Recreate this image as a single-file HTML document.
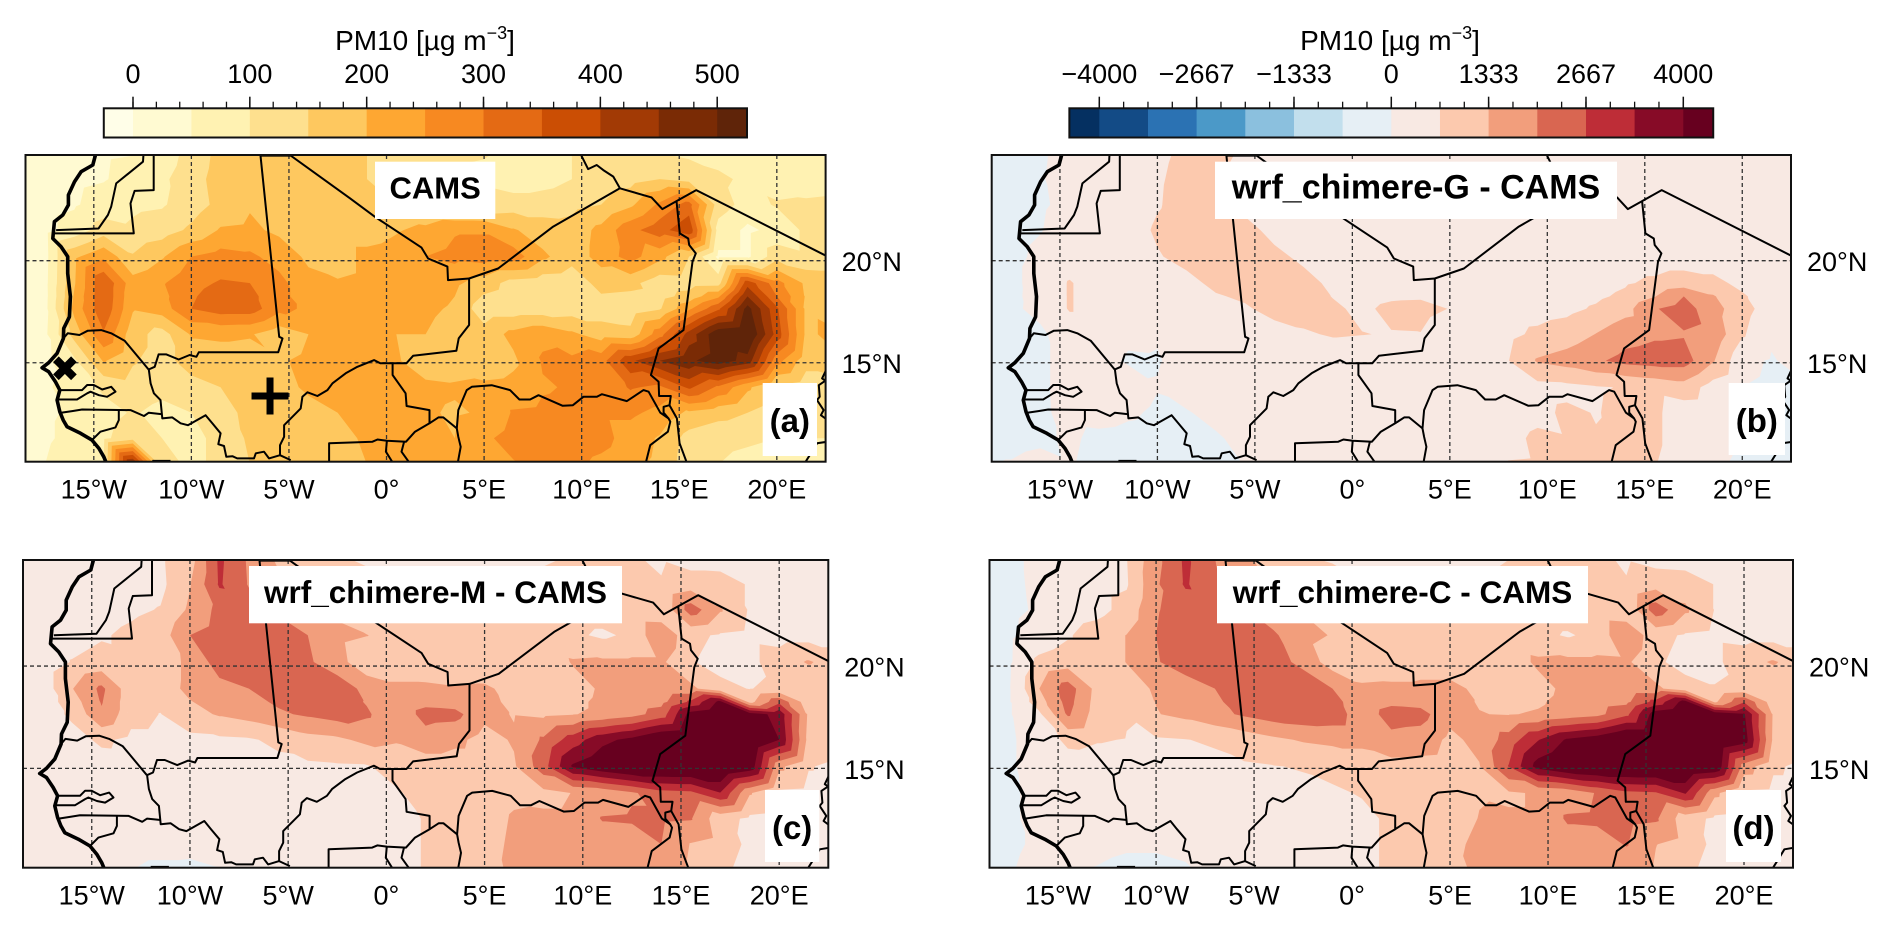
<!DOCTYPE html>
<html lang="en">
<head>
<meta charset="utf-8">
<title>PM10 maps</title>
<style>
html,body{margin:0;padding:0;background:#fff;}
svg{display:block;font-family:"Liberation Sans",Arial,sans-serif;}
</style>
</head>
<body>
<svg id="figure" xmlns="http://www.w3.org/2000/svg" width="1892" height="926" viewBox="0 0 1892 926"></svg>
<script>
const lons = [-19,-17.5,-16,-14.5,-13,-11.5,-10,-8.5,-7,-5.5,-4,-2.5,-1,0.5,2,3.5,5,6.5,8,9.5,11,12.5,14,15.5,17,18.5,20,21.5,23];
const lats = [25.3,24,22.75,21.5,20.2,18.9,18.25,17.65,16.4,15.1,13.8,12.55,11.3,10];

const camsField = [
[30,35,40,45,48,70,120,165,175,175,170,160,150,130,120,110,105,90,90,100,105,110,100,90,80,75,75,70,70],
[30,35,40,47,65,90,130,170,185,190,180,165,150,140,130,115,85,70,80,100,115,130,150,130,110,90,75,70,70],
[30,35,45,70,90,95,125,165,195,190,185,175,165,150,135,125,120,125,125,135,150,190,260,320,125,80,105,110,115],
[30,35,70,125,110,125,160,205,210,190,180,175,175,195,215,245,245,205,175,170,215,285,330,390,80,40,65,110,130],
[28,32,190,240,155,195,250,270,260,230,190,175,215,225,250,265,275,275,210,170,220,270,215,150,40,40,130,110,115],
[28,35,195,345,220,245,285,305,300,265,215,205,215,215,245,210,175,130,120,115,170,165,120,125,130,380,270,190,185],
[28,33,205,345,210,235,295,320,315,265,225,210,212,215,230,200,145,125,120,120,145,140,130,170,240,450,300,195,165],
[28,35,215,340,205,225,300,325,325,265,240,215,210,215,215,190,120,120,120,125,125,120,145,240,340,520,360,190,150],
[28,40,170,295,170,130,205,210,205,170,200,210,205,200,200,170,170,215,240,210,175,165,280,420,540,560,380,190,215],
[28,38,90,205,155,130,175,175,175,195,210,205,210,205,175,180,170,190,255,260,280,390,450,490,530,480,270,170,190],
[35,45,65,110,130,115,130,150,170,190,205,205,205,205,210,205,210,215,245,255,265,305,290,360,290,210,140,120,120],
[40,45,55,80,105,85,100,130,165,175,190,200,205,205,205,195,205,255,260,265,260,260,235,190,170,150,120,120,110],
[40,45,60,90,130,100,90,110,160,165,175,190,205,200,205,200,240,270,280,285,270,225,195,130,110,105,100,100,100],
[50,50,70,100,480,120,90,110,150,160,170,190,200,200,205,215,225,245,265,265,235,210,190,120,100,90,85,85,85]
];
const diffFieldG = [
[-200,-150,-50,150,250,350,550,780,800,600,450,350,300,300,300,300,300,300,300,300,300,300,300,300,300,300,300,300,300],
[-200,-150,-30,150,250,350,600,850,720,500,450,350,300,300,300,300,300,300,300,300,300,300,300,300,300,300,300,300,300],
[-200,-150,-50,100,200,300,620,900,750,500,450,400,350,300,300,300,300,300,300,300,300,300,300,300,300,300,300,300,300],
[-200,-150,-20,200,300,400,750,950,950,850,500,400,350,300,300,300,300,300,300,300,300,300,300,300,300,300,300,300,300],
[-200,-120,100,300,300,300,620,850,950,950,800,550,400,350,300,300,300,300,300,300,300,300,300,300,300,300,300,300,300],
[-200,-120,200,720,300,300,300,500,800,900,950,850,550,400,350,350,350,300,300,300,300,400,600,800,1000,850,500,300,250],
[-200,-110,180,720,300,290,280,400,620,750,900,880,650,450,580,600,450,320,320,350,400,550,800,1300,2000,1400,750,320,270],
[-200,-100,150,720,300,280,250,300,450,600,850,900,750,560,800,850,650,350,350,400,500,750,1100,1950,2300,1600,900,350,300],
[-200,-150,-100,300,300,100,50,300,350,350,450,600,720,680,640,650,300,300,500,800,1000,1350,1750,1900,1950,1800,750,100,150],
[-200,-200,-100,200,200,-60,-40,200,300,300,300,300,300,300,300,350,350,350,650,1400,1600,1900,2200,2300,2300,1400,150,-50,200],
[-200,-200,-100,200,300,300,30,300,300,300,300,300,300,300,300,300,300,300,300,450,500,620,700,850,1050,380,0,-100,-100],
[-200,-200,-120,200,250,100,-100,-50,200,300,300,300,300,300,300,300,300,300,350,500,780,640,800,800,300,250,-60,-120,-120],
[-200,-200,-120,100,-150,-200,-250,-250,-80,200,300,300,300,300,300,300,300,300,500,780,700,700,780,800,300,200,-100,-120,-120],
[-50,50,200,50,-200,-250,-250,-250,-150,20,300,300,300,300,300,300,300,500,700,720,700,720,780,700,300,100,-100,-120,-120]
];
const diffFieldM = [
[200,250,300,400,450,550,1050,2800,1900,1200,800,700,600,500,450,450,450,500,600,700,800,700,600,350,300,300,300,300,300],
[300,300,300,350,400,500,1300,2750,1950,1500,1100,1000,800,600,600,600,600,700,800,900,1000,900,700,1000,1000,600,300,300,300],
[300,300,300,400,550,700,1450,2200,2300,1900,1500,1200,900,800,800,800,800,800,900,1000,1000,800,750,2350,1400,600,400,400,400],
[300,300,400,600,800,1000,2000,2300,2300,2300,2000,1500,1350,1100,1000,1000,1000,1000,950,800,550,800,1950,800,600,500,400,400,400],
[300,300,700,900,800,950,1500,2300,2350,2300,2100,1600,850,850,800,850,800,800,800,1400,1450,1450,1450,700,500,500,1000,1400,1000],
[300,300,1300,2150,900,1000,1500,1800,2000,2300,2400,2400,1800,1500,1500,1400,1450,1100,800,1000,1450,1500,1500,1500,800,650,800,800,600],
[300,300,1000,2050,900,800,1300,1600,1800,2100,2250,2350,1950,1500,1800,1700,1500,1200,1000,1150,1500,1650,1800,2800,4200,1100,2500,900,600],
[300,300,800,1900,900,650,1100,1400,1600,1900,2100,2300,2100,1500,2250,2200,1500,1300,1200,1300,1500,1750,2300,4300,4700,4300,3800,1200,600],
[300,300,400,800,500,500,500,550,600,800,1100,1200,1500,1400,1700,1500,1100,1400,2100,3000,3800,4200,4800,5000,5000,5000,4000,1100,700],
[300,300,300,350,400,400,400,450,450,500,550,600,620,900,1000,1000,1000,1250,2400,4100,4600,5000,5000,5000,5000,4500,1500,700,550],
[300,300,300,350,400,400,400,400,400,400,450,450,500,600,900,900,1000,1200,1150,1350,1500,1900,2400,2500,3300,1400,550,500,500],
[300,300,300,350,400,400,350,350,400,400,400,400,400,500,700,900,1050,1400,1450,1450,2050,2100,2100,2050,900,550,450,400,400],
[300,300,300,300,300,300,250,300,350,400,400,400,450,500,700,800,1100,1450,1500,1500,1600,1600,2000,1300,1100,500,350,300,300],
[300,300,300,200,0,-200,-200,-50,300,350,400,400,450,500,700,800,1000,1500,1500,1500,1700,1500,1500,1200,900,300,250,250,250]
];
const diffFieldC = [
[-200,-100,100,300,500,650,1800,2800,2000,1500,900,700,600,550,500,500,500,500,650,800,850,750,600,400,350,300,300,300,300],
[-200,-120,100,350,450,600,1900,2750,2100,1500,1200,1100,900,700,700,700,700,800,850,950,1050,900,700,1050,1000,650,350,300,300],
[-200,-150,80,300,450,900,1950,2300,2350,2050,1600,1300,1000,850,850,850,850,850,950,1000,1000,850,750,2400,1450,650,450,400,400],
[-200,-120,300,600,1000,1350,2000,2400,2400,2350,2100,1500,1300,1000,1000,1050,1050,1050,1000,850,600,850,2000,850,600,500,400,400,400],
[-200,-100,800,1000,1000,1350,1950,2300,2400,2350,2300,1800,1000,900,850,1000,1000,1000,1000,1450,1500,1500,1450,750,500,500,1100,1400,1000],
[-200,-50,1300,2350,1100,1100,1400,1700,2000,2400,2400,2500,2000,1450,1500,1500,1500,1200,1000,1100,1500,1550,1550,1500,850,700,850,850,650],
[-200,-50,1000,2250,1050,900,1350,1600,1900,2250,2400,2500,2250,1550,1850,1750,1500,1300,1150,1250,1550,1700,1850,2900,4300,1200,2600,950,650],
[-200,-50,500,2100,1000,700,1300,1500,1800,2100,2350,2450,2400,1600,2300,2250,1500,1350,1300,1400,1600,1800,2500,4400,4800,4500,4100,1250,650],
[-200,-100,300,800,700,650,600,650,750,950,1200,1400,1500,1500,1800,1700,1200,1500,2300,3300,4100,4400,5000,5000,5000,5000,4400,1200,700],
[-200,-100,300,400,450,450,450,500,500,600,650,700,800,1000,1100,1100,1050,1300,2700,4300,4800,5000,5000,5000,5000,4700,1700,750,550],
[-200,-120,200,350,400,400,400,400,400,450,500,550,600,700,1000,1000,1050,1300,1250,1400,1550,2050,2500,2600,3400,1500,550,500,500],
[-200,-120,200,350,400,300,250,300,400,400,400,450,450,550,750,950,1100,1350,1400,1400,2100,2150,2200,2100,950,550,450,400,400],
[-200,-120,100,300,200,100,100,200,350,400,400,450,500,550,750,850,1200,1450,1550,1550,1650,1650,2050,1350,1100,500,350,300,300],
[-150,-50,200,150,-50,-200,-200,-100,200,350,400,450,500,550,750,850,1050,1500,1500,1550,1750,1550,1500,1250,900,300,250,250,250]
];

const absLevels = [0,50,100,150,200,250,300,350,400,450,500];
const absColors = ['#fffee8','#fffad2','#fff2b2','#fee08e','#fec85f','#fea732','#f78921','#e46a14','#cb4e04','#a23a05','#7a2b05','#5f2409'];
const absTicks = [0,100,200,300,400,500];
const absTickLabels = ['0','100','200','300','400','500'];
const absMinorStep = 20;
const diffLevels = [-4000,-3333,-2667,-2000,-1333,-667,0,667,1333,2000,2667,3333,4000];
const diffColors = ['#053061','#134b86','#2b72b3','#4b99c8','#8bc0de','#c2dfed','#e6eff5','#f8e9e3','#fcc9ae','#f29e7c','#d96651','#be2d37','#870b27','#67001f'];
const diffTicks = [-4000,-2667,-1333,0,1333,2667,4000];
const diffTickLabels = ['\u22124000','\u22122667','\u22121333','0','1333','2667','4000'];
const diffMinorStep = 333.33;

const lonTicks = [-15,-10,-5,0,5,10,15,20];
const lonTickLabels = ['15°W','10°W','5°W','0°','5°E','10°E','15°E','20°E'];
const latTicks = [20,15];
const latTickLabels = ['20°N','15°N'];

const coastline = [[-14.88,25.3],[-15.05,24.69],[-15.65,24.36],[-15.99,23.87],[-16.3,23.22],[-16.3,22.73],[-16.59,22.24],[-17.02,21.91],[-17.1,21.09],[-16.68,20.69],[-16.34,20.2],[-16.34,19.38],[-16.2,18.24],[-16.25,17.25],[-16.54,16.68],[-16.56,16.19],[-16.88,15.46],[-17.31,15],[-17.65,14.75],[-17.31,14.56],[-16.97,14.07],[-16.74,13.66],[-16.88,13.17],[-16.74,12.6],[-16.57,12.19],[-16.37,11.86],[-15.68,11.54],[-15.09,11.21],[-14.74,10.8],[-14.49,10.39],[-14.32,10]];
const borders = [
[[-12.45,25.3],[-12.48,24.85],[-13.85,23.79],[-14.11,22.65],[-14.28,22.24],[-14.76,21.58],[-16.93,21.5]],
[[-17.02,21.34],[-12.95,21.34],[-13.12,22.81],[-12.91,23.42],[-11.93,23.46],[-11.93,25.3]],
[[-4.91,25.15],[-6.46,25.15],[-5.5,16.27],[-5.33,16.19],[-5.55,15.51],[-9.62,15.51],[-9.74,15.29],[-10.09,15.38],[-10.65,15.16],[-11.28,15.41],[-11.68,15.41],[-11.88,14.8],[-12.19,14.67]],
[[-12.19,14.67],[-13.42,16.08],[-14.11,16.44],[-14.62,16.6],[-15.31,16.57],[-15.74,16.36],[-16.34,16.44],[-16.56,16.19]],
[[-12.18,14.67],[-12.09,13.99],[-11.92,13.5],[-11.58,13.17],[-11.49,12.27],[-10.98,12.32],[-10.55,12.03],[-10.18,11.94],[-9.27,12.43],[-8.93,12.03],[-8.5,11.54],[-8.62,11.01],[-8.33,10.92],[-8.21,10.39],[-7.9,10.42],[-7.65,10.31],[-6.79,10.31],[-6.7,10.56],[-6.28,10.64],[-6.02,10.31],[-5.46,10.47],[-4.91,10.23]],
[[-5.46,10.47],[-5.46,10.96],[-5.25,11.37],[-5.25,11.94],[-4.4,12.76],[-4.31,13.33],[-4.05,13.55],[-3.54,13.37],[-3.03,13.66],[-2.77,13.99],[-2.09,14.48],[-1.49,14.8],[-0.63,15.13],[-0.32,14.97],[1.02,14.97],[1.36,15.34],[3.58,15.59],[3.7,16.19],[4.23,16.85],[4.23,19.13],[3.15,19.05],[3.12,19.71],[2.13,20.11],[1.79,20.64],[-0.61,22.16],[-1.87,23.06],[-4.91,25.15]],
[[4.23,19.13],[5.72,19.62],[8.54,21.67],[11.96,23.55],[11.62,24.12],[11.11,24.44],[10.77,24.69],[10.33,24.49],[9.91,25.3]],
[[11.96,23.55],[13.58,23.1],[14.13,22.53],[14.86,22.92],[15.87,23.46],[22.6,20.2]],
[[14.86,22.92],[15.03,21.34],[15.46,21.09],[15.51,20.77],[15.85,20.36],[15.68,19.95],[15.22,16.6],[13.94,15.7],[13.55,14.4],[13.94,14.07],[13.97,13.37],[14.57,13.37],[14.5,12.92],[14.2,12.84],[14.2,12.55],[14.45,12.27]],
[[3.63,10],[3.8,10.88],[3.68,11.37],[3.6,11.78],[3.68,12.68],[4.11,13.66],[4.37,13.82],[5.39,13.9],[6.33,13.66],[6.81,13.2],[7.36,13.2],[7.79,13.41],[9.03,12.89],[9.55,12.92],[10.09,13.33],[10.78,13.33],[11.03,13.46],[12.32,13.12],[13.17,13.66],[13.43,13.58],[14.03,12.55],[14.45,12.27],[14.54,12.11],[14.42,11.62],[13.51,10.96],[13.26,10]],
[[14.5,12.92],[14.88,12.27],[15.02,11.05],[15.43,10]],
[[0.31,14.97],[0.31,14.4],[0.98,13.5],[1.03,12.88],[2.2,12.68],[2.2,12.03],[1.46,11.62],[1.0,11.13],[0.02,11.18],[-0.46,11.24],[-0.72,11.13],[-2.94,11.05],[-2.94,10]],
[[2.2,12.03],[2.66,12.32],[2.91,12.32],[3.6,11.78]],
[[0.02,11.18],[-0.03,10.64],[0.39,10]],
[[0.9,11.13],[0.77,10.64],[1.25,10]],
[[-16.74,13.66],[-15.6,13.66],[-15.34,13.91],[-15,13.91],[-14.57,13.69],[-14.11,13.82],[-13.89,13.58],[-14.32,13.33],[-14.74,13.41],[-15.17,13.58],[-15.34,13.5],[-15.86,13.2],[-16.8,13.2]],
[[-16.68,12.55],[-16.11,12.63],[-15.6,12.71],[-13.12,12.68],[-12.43,12.39],[-12.18,12.55],[-11.49,12.48]],
[[-13.72,12.68],[-13.72,12.19],[-13.89,11.83],[-14.66,11.62],[-15.09,11.21]],
[[-12,10.19],[-11.07,10.19]],
[[22.6,14.8],[22.32,14.23],[22.49,14.12],[22.15,13.9],[22.2,13.33],[22.06,13.17],[22.4,12.68],[22.26,12.43],[22.6,12.19]],
[[21.38,10],[21.8,10.64],[22.06,11.05],[22.6,11.13]]
];

const panels = [
{key:'a',tag:'(a)',title:'CAMS',titleSize:31,field:camsField,levels:absLevels,colors:absColors,left:25.5,right:825.6,top:155,bottom:461.7,
 titleBox:[375,161.7,120.3,57.3],tagBox:[762.7,383,54.3,73],markers:true},
{key:'b',tag:'(b)',title:'wrf_chimere-G - CAMS',titleSize:34,field:diffFieldG,levels:diffLevels,colors:diffColors,left:991.7,right:1791,top:155,bottom:461.7,
 titleBox:[1215,161.7,402,57.3],tagBox:[1728.7,383,56.3,72]},
{key:'c',tag:'(c)',title:'wrf_chimere-M - CAMS',titleSize:31.5,field:diffFieldM,levels:diffLevels,colors:diffColors,left:23,right:828.3,top:560,bottom:867.7,
 titleBox:[249,566,373,57.3],tagBox:[765,790,54.3,72]},
{key:'d',tag:'(d)',title:'wrf_chimere-C - CAMS',titleSize:31.5,field:diffFieldC,levels:diffLevels,colors:diffColors,left:989.5,right:1793,top:560,bottom:867.7,
 titleBox:[1217,566,371,57.3],tagBox:[1726,790,55,72]}
];

const lonMin = -18.5, lonMax = 22.5, latMin = 10.15, latMax = 25.18;
const NS = 'http://www.w3.org/2000/svg';
const fig = document.getElementById('figure');

function make(tag, attrs, parent){
  const el = document.createElementNS(NS, tag);
  for(const k in attrs) el.setAttribute(k, attrs[k]);
  (parent || fig).appendChild(el);
  return el;
}
function xScale(p, lon){ return p.left + (lon - lonMin) / (lonMax - lonMin) * (p.right - p.left); }
function yScale(p, lat){ return p.top + (latMax - lat) / (latMax - latMin) * (p.bottom - p.top); }

function clipTriangle(tri, level){
  const out = [];
  for(let i = 0; i < 3; i++){
    const a = tri[i], b = tri[(i + 1) % 3];
    const ia = a[2] >= level, ib = b[2] >= level;
    if(ia) out.push(a);
    if(ia !== ib){
      const t = (level - a[2]) / (b[2] - a[2]);
      out.push([a[0] + t * (b[0] - a[0]), a[1] + t * (b[1] - a[1]), level]);
    }
  }
  return out;
}
function bandPath(p, level){
  let d = '';
  const f = p.field;
  const addTri = function(tri){
    const poly = clipTriangle(tri, level);
    if(poly.length < 3) return;
    d += 'M' + poly.map(function(q){ return q[0].toFixed(1) + ' ' + q[1].toFixed(1); }).join('L') + 'Z';
  };
  for(let r = 0; r < lats.length - 1; r++){
    for(let c = 0; c < lons.length - 1; c++){
      const n = function(rr, cc){ return [xScale(p, lons[cc]), yScale(p, lats[rr]), f[rr][cc]]; };
      const A = n(r, c), B = n(r, c + 1), C = n(r + 1, c + 1), D = n(r + 1, c);
      addTri([A, B, C]);
      addTri([A, C, D]);
    }
  }
  return d;
}
function lineThrough(p, pts){
  return pts.map(function(q, i){
    return (i ? 'L' : 'M') + xScale(p, q[0]).toFixed(1) + ' ' + yScale(p, q[1]).toFixed(1);
  }).join('');
}

panels.forEach(function(p){
  const W = p.right - p.left, H = p.bottom - p.top;
  const g = make('g', {});
  
  
  const cp = make('clipPath', {id:'clip-' + p.key}, g);
  make('rect', {x:p.left, y:p.top, width:W, height:H}, cp);
  const body = make('g', {'clip-path':'url(#clip-' + p.key + ')'}, g);

  const base = make('rect', {x:p.left, y:p.top, width:W, height:H, fill:p.colors[0]}, body);
  
  
  p.levels.forEach(function(lv, i){
    const d = bandPath(p, lv);
    if(!d) return;
    const band = make('path', {d:d, fill:p.colors[i + 1]}, body);
    
    
  });

  lonTicks.forEach(function(lon, i){
    const x = xScale(p, lon);
    const ln = make('line', {x1:x, x2:x, y1:p.top, y2:p.bottom, stroke:'#333', 'stroke-width':1.3, 'stroke-dasharray':'4 3'}, body);
    
    
  });
  latTicks.forEach(function(lat, i){
    const y = yScale(p, lat);
    const ln = make('line', {x1:p.left, x2:p.right, y1:y, y2:y, stroke:'#333', 'stroke-width':1.3, 'stroke-dasharray':'4 3'}, body);
    
    
  });

  borders.forEach(function(b, i){
    const path = make('path', {d:lineThrough(p, b), fill:'none', stroke:'#000', 'stroke-width':2, 'stroke-linejoin':'round'}, body);
    
    
  });
  const coast = make('path', {d:lineThrough(p, coastline), fill:'none', stroke:'#000', 'stroke-width':3.6, 'stroke-linejoin':'round'}, body);
  
  

  if(p.markers){
    const cx = xScale(p, -16.48), cy = yScale(p, 14.73);
    const cross = make('path', {d:'M' + (cx - 9) + ' ' + (cy - 9) + 'L' + (cx + 9) + ' ' + (cy + 9) + 'M' + (cx + 9) + ' ' + (cy - 9) + 'L' + (cx - 9) + ' ' + (cy + 9), stroke:'#000', 'stroke-width':8, fill:'none'}, body);
    
    
    const px = xScale(p, -5.97), py = yScale(p, 13.37);
    const plus = make('path', {d:'M' + (px - 18.5) + ' ' + py + 'L' + (px + 18.5) + ' ' + py + 'M' + px + ' ' + (py - 18.5) + 'L' + px + ' ' + (py + 18.5), stroke:'#000', 'stroke-width':7, fill:'none'}, body);
    
    
  }

  const tb = p.titleBox;
  const tbox = make('rect', {x:tb[0], y:tb[1], width:tb[2], height:tb[3], fill:'#fff'}, g);
  
  
  const tt = make('text', {x:tb[0] + tb[2] / 2, y:tb[1] + 37, 'text-anchor':'middle', 'font-size':p.titleSize, 'font-weight':'bold', fill:'#000'}, g);
  tt.textContent = p.title;
  
  

  const lb = p.tagBox;
  const lbox = make('rect', {x:lb[0], y:lb[1], width:lb[2], height:lb[3], fill:'#fff'}, g);
  
  
  const lt = make('text', {x:lb[0] + lb[2] / 2, y:lb[1] + 49, 'text-anchor':'middle', 'font-size':33, 'font-weight':'bold', fill:'#000'}, g);
  lt.textContent = p.tag;
  
  

  const frame = make('rect', {x:p.left, y:p.top, width:W, height:H, fill:'none', stroke:'#111', 'stroke-width':2}, g);
  
  

  lonTicks.forEach(function(lon, i){
    const t = make('text', {x:xScale(p, lon), y:p.bottom + 36.6, 'text-anchor':'middle', 'font-size':27, fill:'#000'}, g);
    t.textContent = lonTickLabels[i];
    
    
  });
  latTicks.forEach(function(lat, i){
    const t = make('text', {x:p.right + 16, y:yScale(p, lat) + 10.5, 'font-size':27, fill:'#000'}, g);
    t.textContent = latTickLabels[i];
    
    
  });
});

function drawColorbar(cfg){
  const g = make('g', {});
  
  
  const bx = function(v){ return cfg.x0 + (v - cfg.v0) * cfg.k; };
  const edges = [cfg.vMin].concat(cfg.levels, [cfg.vMax]);
  cfg.colors.forEach(function(col, i){
    const r = make('rect', {x:bx(edges[i]), y:108.3, width:bx(edges[i + 1]) - bx(edges[i]) + 0.4, height:29.2, fill:col}, g);
    
    
  });
  const fr = make('rect', {x:bx(cfg.vMin), y:108.3, width:bx(cfg.vMax) - bx(cfg.vMin), height:29.2, fill:'none', stroke:'#111', 'stroke-width':2}, g);
  
  
  for(let v = cfg.ticks[0]; v <= cfg.ticks[cfg.ticks.length - 1] + 1; v += cfg.minor){
    const mt = make('line', {x1:bx(v), x2:bx(v), y1:108, y2:101.7, stroke:'#111', 'stroke-width':1.3}, g);
    
    
  }
  cfg.ticks.forEach(function(v, i){
    const mj = make('line', {x1:bx(v), x2:bx(v), y1:108, y2:96.7, stroke:'#111', 'stroke-width':1.5}, g);
    
    
    const t = make('text', {x:bx(v), y:83, 'text-anchor':'middle', 'font-size':27, fill:'#000'}, g);
    t.textContent = cfg.labels[i];
    
    
  });
  const title = make('text', {x:cfg.titleX, y:50, 'text-anchor':'middle', 'font-size':28, fill:'#000'}, g);
  
  
  const s1 = make('tspan', {}, title);
  s1.textContent = 'PM10 [µg m';
  const s2 = make('tspan', {dy:-11, 'font-size':18}, title);
  s2.textContent = '\u22123';
  const s3 = make('tspan', {dy:11}, title);
  s3.textContent = ']';
}
drawColorbar({name:'colorbar-absolute',x0:133,v0:0,k:1.1684,vMin:-25,vMax:525.5,levels:absLevels,colors:absColors,ticks:absTicks,labels:absTickLabels,minor:absMinorStep,titleX:425});
drawColorbar({name:'colorbar-difference',x0:1391.3,v0:0,k:0.0730,vMin:-4410,vMax:4410,levels:diffLevels,colors:diffColors,ticks:diffTicks,labels:diffTickLabels,minor:diffMinorStep,titleX:1390});
</script>
</body>
</html>
